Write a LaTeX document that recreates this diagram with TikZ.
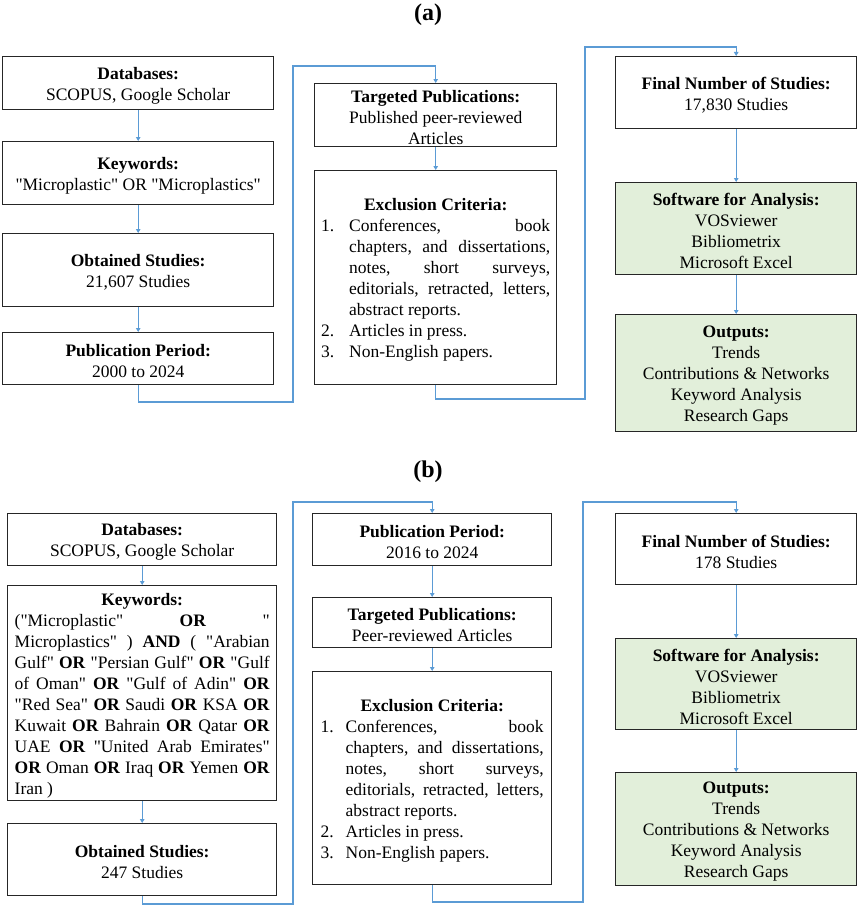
\documentclass[tikz,border=0pt]{standalone}
\usepackage{fontspec}
\setmainfont{Liberation Serif}
\usetikzlibrary{arrows.meta}
\definecolor{connblue}{HTML}{5B9BD5}
\definecolor{boxgreen}{HTML}{E2EFDA}
\hbadness=10000
\newcommand{\dq}{\textquotedbl}
\newcommand{\hd}[1]{\rule{0pt}{17pt}\textbf{#1}}
\begin{document}
\begin{tikzpicture}[x=1pt,y=-1pt,
  box/.style={draw=black!85, line width=1.4pt, inner xsep=4pt, inner ysep=0pt,
    align=center, font=\fontsize{17.5}{21}\selectfont, anchor=north west},
  gbox/.style={box, fill=boxgreen},
  listbox/.style={box, align=justify},
  conn/.style={draw=connblue, line width=1.2pt, -{Triangle[length=4pt,width=4.5pt]}},
  ttl/.style={font=\fontsize{24}{28}\selectfont\bfseries}]
\useasboundingbox (0,0) rectangle (858,907);

% ---------------- (a) ----------------
\node[ttl] (ta) at (428,15) {(a)};

\node[box, minimum width=271pt, minimum height=53pt] (a1) at (2,56)
  {\hd{Databases:}\\SCOPUS, Google Scholar};
\node[box, minimum width=271pt, minimum height=63pt] (a2) at (2,141)
  {\hd{Keywords:}\\\dq Microplastic\dq{} OR \dq Microplastics\dq};
\node[box, minimum width=271pt, minimum height=73pt] (a3) at (2,233)
  {\hd{Obtained Studies:}\\21,607 Studies};
\node[box, minimum width=271pt, minimum height=52pt] (a4) at (2,332)
  {\hd{Publication Period:}\\2000 to 2024};

\node[box, minimum width=242pt, minimum height=63pt] (a5) at (314,83)
  {\hd{Targeted Publications:}\\Published peer-reviewed\\Articles};
\node[listbox, text width=229pt, inner xsep=6.5pt, minimum height=214pt] (a6) at (314,170)
  {\parindent=0pt
   {\centering\hd{Exclusion Criteria:}\par}
   \hangindent=28pt\hangafter=1\noindent\makebox[28pt][l]{1.}Conferences,~book\linebreak
   chapters,~and~dissertations,\linebreak
   notes,~short~surveys,\linebreak
   editorials,~retracted,~letters,\linebreak
   abstract~reports.\par
   \hangindent=28pt\hangafter=1\noindent\makebox[28pt][l]{2.}Articles~in~press.\par
   \hangindent=28pt\hangafter=1\noindent\makebox[28pt][l]{3.}Non-English~papers.\par};

\node[box, minimum width=241pt, minimum height=72pt] (a7) at (615,56)
  {\hd{Final Number of Studies:}\\17,830 Studies};
\node[gbox, minimum width=241pt, minimum height=92pt] (a8) at (615,182)
  {\hd{Software for Analysis:}\\VOSviewer\\Bibliometrix\\Microsoft Excel};
\node[gbox, minimum width=241pt, minimum height=117pt] (a9) at (615,314)
  {\hd{Outputs:}\\Trends\\Contributions \& Networks\\Keyword Analysis\\Research Gaps};

\draw[conn] (a1) -- (a2);
\draw[conn] (a2) -- (a3);
\draw[conn] (a3) -- (a4);
\draw[conn] (a5) -- (a6);
\draw[conn] (a7) -- (a8);
\draw[conn] (a8) -- (a9);

\coordinate (ca1) at (293,402);
\coordinate (ca2) at (293,66);
\draw[conn] (a4.south) |- (ca1) -- (ca2) -| (a5.north);
\coordinate (cb1) at (585,399);
\coordinate (cb2) at (585,47);
\draw[conn] (a6.south) |- (cb1) -- (cb2) -| (a7.north);

% ---------------- (b) ----------------
\node[ttl] (tb) at (428,472) {(b)};

\node[box, minimum width=269pt, minimum height=52pt] (b1) at (7,513)
  {\hd{Databases:}\\SCOPUS, Google Scholar};
\node[listbox, text width=255pt, inner xsep=7pt, minimum height=215pt] (b2) at (7,585)
  {\parindent=0pt
   {\centering\hd{Keywords:}\par}
   \noindent(\dq Microplastic\dq~\textbf{OR}~\dq\linebreak
   Microplastics\dq~)~\textbf{AND}~(~\dq Arabian\linebreak
   Gulf\dq~\textbf{OR}~\dq Persian~Gulf\dq~\textbf{OR}~\dq Gulf\linebreak
   of~Oman\dq~\textbf{OR}~\dq Gulf~of~Adin\dq~\textbf{OR}\linebreak
   \dq Red~Sea\dq~\textbf{OR}~Saudi~\textbf{OR}~KSA~\textbf{OR}\linebreak
   Kuwait~\textbf{OR}~Bahrain~\textbf{OR}~Qatar~\textbf{OR}\linebreak
   UAE~\textbf{OR}~\dq United~Arab~Emirates\dq\linebreak
   \textbf{OR}~Oman~\textbf{OR}~Iraq~\textbf{OR}~Yemen~\textbf{OR}\linebreak
   Iran~)\par};
\node[box, minimum width=269pt, minimum height=72pt] (b3) at (7,823)
  {\hd{Obtained Studies:}\\247 Studies};

\node[box, minimum width=239pt, minimum height=52pt] (b4) at (312,513)
  {\hd{Publication Period:}\\2016 to 2024};
\node[box, minimum width=239pt, minimum height=50pt] (b5) at (312,597)
  {\hd{Targeted Publications:}\\Peer-reviewed Articles};
\node[listbox, text width=223pt, inner xsep=8pt, minimum height=213pt] (b6) at (312,671)
  {\parindent=0pt
   {\centering\hd{Exclusion Criteria:}\par}
   \hangindent=25pt\hangafter=1\noindent\makebox[25pt][l]{1.}Conferences,~book\linebreak
   chapters,~and~dissertations,\linebreak
   notes,~short~surveys,\linebreak
   editorials,~retracted,~letters,\linebreak
   abstract~reports.\par
   \hangindent=25pt\hangafter=1\noindent\makebox[25pt][l]{2.}Articles~in~press.\par
   \hangindent=25pt\hangafter=1\noindent\makebox[25pt][l]{3.}Non-English~papers.\par};

\node[box, minimum width=241pt, minimum height=71pt] (b7) at (615,513)
  {\hd{Final Number of Studies:}\\178 Studies};
\node[gbox, minimum width=241pt, minimum height=91pt] (b8) at (615,638)
  {\hd{Software for Analysis:}\\VOSviewer\\Bibliometrix\\Microsoft Excel};
\node[gbox, minimum width=241pt, minimum height=113pt] (b9) at (615,772)
  {\hd{Outputs:}\\Trends\\Contributions \& Networks\\Keyword Analysis\\Research Gaps};

\draw[conn] (b1) -- (b2);
\draw[conn] (b2) -- (b3);
\draw[conn] (b4) -- (b5);
\draw[conn] (b5) -- (b6);
\draw[conn] (b7) -- (b8);
\draw[conn] (b8) -- (b9);

\coordinate (cc1) at (293,904);
\coordinate (cc2) at (293,502);
\draw[conn] (b3.south) |- (cc1) -- (cc2) -| (b4.north);
\coordinate (cd1) at (583,902);
\coordinate (cd2) at (583,502);
\draw[conn] (b6.south) |- (cd1) -- (cd2) -| (b7.north);
\end{tikzpicture}
\end{document}
